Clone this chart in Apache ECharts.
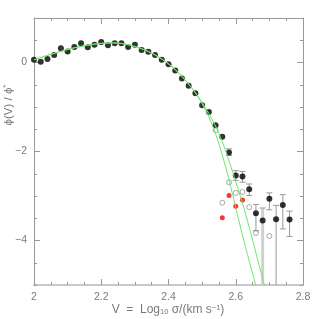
<!DOCTYPE html>
<html><head><meta charset="utf-8">
<script src="https://cdn.jsdelivr.net/npm/echarts@6/dist/echarts.min.js"></script>
<style>html,body{margin:0;padding:0;background:#fff}#c{width:319px;height:319px}</style>
</head><body><div id="c"></div>
<script>
// ---- data ----
const blackX = [2.00,2.02,2.04,2.06,2.08,2.10,2.12,2.14,2.16,2.18,2.20,2.22,2.24,2.26,2.28,2.30,2.32,2.34,2.36,2.38,2.40,2.42,2.44,2.46,2.48,2.50,2.52,2.54,2.56,2.58,2.60,2.62,2.64,2.66,2.68,2.70,2.72,2.74,2.76];
const blackY = [0.06,0.015,0.076,0.17,0.32,0.25,0.35,0.43,0.34,0.40,0.46,0.39,0.43,0.43,0.35,0.40,0.28,0.24,0.17,0.06,-0.04,-0.18,-0.36,-0.52,-0.69,-0.96,-1.11,-1.41,-1.67,-2.02,-2.54,-2.56,-2.85,-3.39,-3.55,-3.06,-3.52,-3.20,-3.53];

const openX = [2.54,2.56,2.58,2.60,2.62,2.64,2.66,2.70];
const openY = [-1.52,-3.15,-2.69,-2.93,-2.91,-3.25,-3.83,-3.90];

const redX = [2.56,2.58,2.60,2.62];
const redY = [-3.49,-2.99,-3.23,-3.09];

// closed error bars
const errX  = [2.58,2.60,2.62,2.64,2.66,2.70,2.74,2.76];
const errLo = [-2.09,-2.65,-2.69,-2.99,-3.78,-3.31,-3.74,-3.91];
const errHi = [-1.94,-2.43,-2.45,-2.73,-3.19,-2.93,-2.97,-3.34];

// error bars open towards the bottom (no lower limit)
const openErrX  = [2.68,2.72];
const openErrHi = [-3.27,-3.21];

// model curves
const curveCommonX = [2.00,2.04,2.08,2.12,2.16,2.20,2.24,2.28,2.32,2.36,2.40,2.44,2.48];
const curveCommonY = [0.06,0.16,0.25,0.33,0.39,0.43,0.44,0.40,0.31,0.17,-0.03,-0.31,-0.68];
const curveAX = [2.50,2.52,2.54,2.56,2.58,2.60,2.62,2.64,2.66,2.68];
const curveAY = [-0.93,-1.22,-1.60,-2.08,-2.64,-3.26,-3.88,-4.46,-5.02,-5.60];
const curveBX = [2.50,2.52,2.54,2.56,2.58,2.60,2.62,2.64,2.66,2.68,2.70];
const curveBY = [-0.90,-1.15,-1.43,-1.78,-2.21,-2.68,-3.16,-3.70,-4.28,-4.86,-5.45];

const xTickLabels = [2, 2.2, 2.4, 2.6, 2.8];
const yMajor = [-4, -2, 0];

// ---- build ----
const pairs = (xs, ys) => xs.map((x, i) => [x, ys[i]]);
const curveA = pairs(curveCommonX, curveCommonY).concat(pairs(curveAX, curveAY));
const curveB = pairs(curveCommonX, curveCommonY).concat(pairs(curveBX, curveBY));

const grey = '#999';
const labelColor = '#7a7a7a';
const fam = '"Liberation Sans", Arial, sans-serif';

const chart = echarts.init(document.getElementById('c'), null, {renderer: 'canvas'});

const yFmt = v => (v < 0 ? '\u2212' + Math.abs(v) : String(v));

function baseY(pos, major, withLabel) {
  return {
    type: 'value', position: pos, min: -5, max: 1, interval: 0.5,
    axisLine: {show: !major, onZero: false, lineStyle: {color: grey, width: 1}},
    axisTick: major
      ? {show: true, inside: true, length: 6, customValues: yMajor, lineStyle: {color: grey}}
      : {show: true, inside: true, length: 3, lineStyle: {color: grey}},
    axisLabel: withLabel
      ? {show: true, customValues: yMajor, formatter: yFmt, color: labelColor, fontSize: 10.5, fontFamily: fam, margin: 7}
      : {show: false},
    splitLine: {show: false}
  };
}

function baseX(pos, withLabel) {
  return {
    type: 'value', position: pos, min: 2, max: 2.8, interval: 0.2,
    axisLine: {show: true, onZero: false, lineStyle: {color: pos === 'bottom' ? '#c8c8c8' : grey, width: pos === 'bottom' ? 2 : 1}},
    axisTick: {show: true, inside: true, length: 6, lineStyle: {color: grey}},
    minorTick: {show: true, splitNumber: 4, length: 3, lineStyle: {color: grey}},
    axisLabel: withLabel
      ? {show: true, color: labelColor, fontSize: 10.5, fontFamily: fam, margin: 7,
         customValues: xTickLabels, formatter: v => String(v)}
      : {show: false},
    splitLine: {show: false}, minorSplitLine: {show: false}
  };
}

function errItem(params, api) {
  const x = api.value(0), lo = api.value(1), hi = api.value(2);
  const pLo = api.coord([x, lo]), pHi = api.coord([x, hi]);
  const cap = 3;
  const st = {stroke: grey, lineWidth: 1};
  return {type: 'group', children: [
    {type: 'line', shape: {x1: pLo[0], y1: pLo[1], x2: pHi[0], y2: pHi[1]}, style: st},
    {type: 'line', shape: {x1: pLo[0]-cap, y1: pLo[1], x2: pLo[0]+cap, y2: pLo[1]}, style: st},
    {type: 'line', shape: {x1: pHi[0]-cap, y1: pHi[1], x2: pHi[0]+cap, y2: pHi[1]}, style: st}
  ]};
}

function openErrItem(params, api) {
  const x = api.value(0), hi = api.value(1);
  const pHi = api.coord([x, hi]);
  const pBot = api.coord([x, -5]);
  const cap = 3;
  const wide = params.dataIndex === 0;
  return {type: 'group', children: [
    {type: 'line', shape: {x1: pHi[0], y1: pHi[1], x2: pBot[0], y2: pBot[1]},
     style: {stroke: wide ? '#d0d0d0' : grey, lineWidth: wide ? 3 : 1}},
    {type: 'line', shape: {x1: pHi[0]-cap, y1: pHi[1], x2: pHi[0]+cap, y2: pHi[1]},
     style: {stroke: grey, lineWidth: 1}}
  ]};
}

chart.setOption({
  animation: false,
  backgroundColor: '#fff',
  grid: {left: 34, right: 16, top: 18, bottom: 34, containLabel: false},
  xAxis: [baseX('bottom', true), baseX('top', false)],
  yAxis: [baseY('left', false, true), baseY('left', true, false), baseY('right', false, false), baseY('right', true, false)],
  series: [
    {type: 'custom', renderItem: errItem, data: errX.map((x, i) => [x, errLo[i], errHi[i]]), z: 1, silent: true},
    {type: 'custom', renderItem: openErrItem, data: openErrX.map((x, i) => [x, openErrHi[i]]), z: 1, silent: true},
    {type: 'scatter', data: pairs(blackX, blackY), symbol: 'circle', symbolSize: 6,
     itemStyle: {color: '#000'}, z: 3},
    {type: 'scatter', data: pairs(openX, openY), symbol: 'circle', symbolSize: 5,
     itemStyle: {color: 'rgba(255,255,255,0)', borderColor: '#777', borderWidth: 0.8}, z: 3},
    {type: 'scatter', data: pairs(redX, redY), symbol: 'circle', symbolSize: 5,
     itemStyle: {color: '#ff0000'}, z: 3},
    {type: 'line', data: curveA, smooth: 0.3, showSymbol: false, clip: true,
     lineStyle: {color: '#6be86b', width: 1}, z: 4},
    {type: 'line', data: curveB, smooth: 0.3, showSymbol: false, clip: true,
     lineStyle: {color: '#6be86b', width: 1}, z: 4}
  ],
  graphic: [
    {type: 'text', x: 9, y: 105, rotation: Math.PI / 2, z: 10,
     style: {text: '{a|\u03D5(V) / \u03D5}{s|*}', align: 'center', verticalAlign: 'middle', fill: labelColor,
       rich: {a: {fontSize: 11.5, fontFamily: fam, fill: labelColor},
              s: {fontSize: 8, fontFamily: fam, fill: labelColor, padding: [0, 0, 6, 0]}}}},
    {type: 'text', x: 168, y: 310, z: 10,
     style: {text: '{a|V  =  Log}{b|10}{a| \u03C3/(km s}{c|\u22121}{a|)}', align: 'center', verticalAlign: 'middle', fill: labelColor,
       rich: {a: {fontSize: 12, fontFamily: fam, fill: labelColor},
              b: {fontSize: 7.5, fontFamily: fam, fill: labelColor, padding: [4, 0, 0, 0]},
              c: {fontSize: 7.5, fontFamily: fam, fill: labelColor, padding: [0, 0, 5, 0]}}}}
  ]
});
</script></body></html>
